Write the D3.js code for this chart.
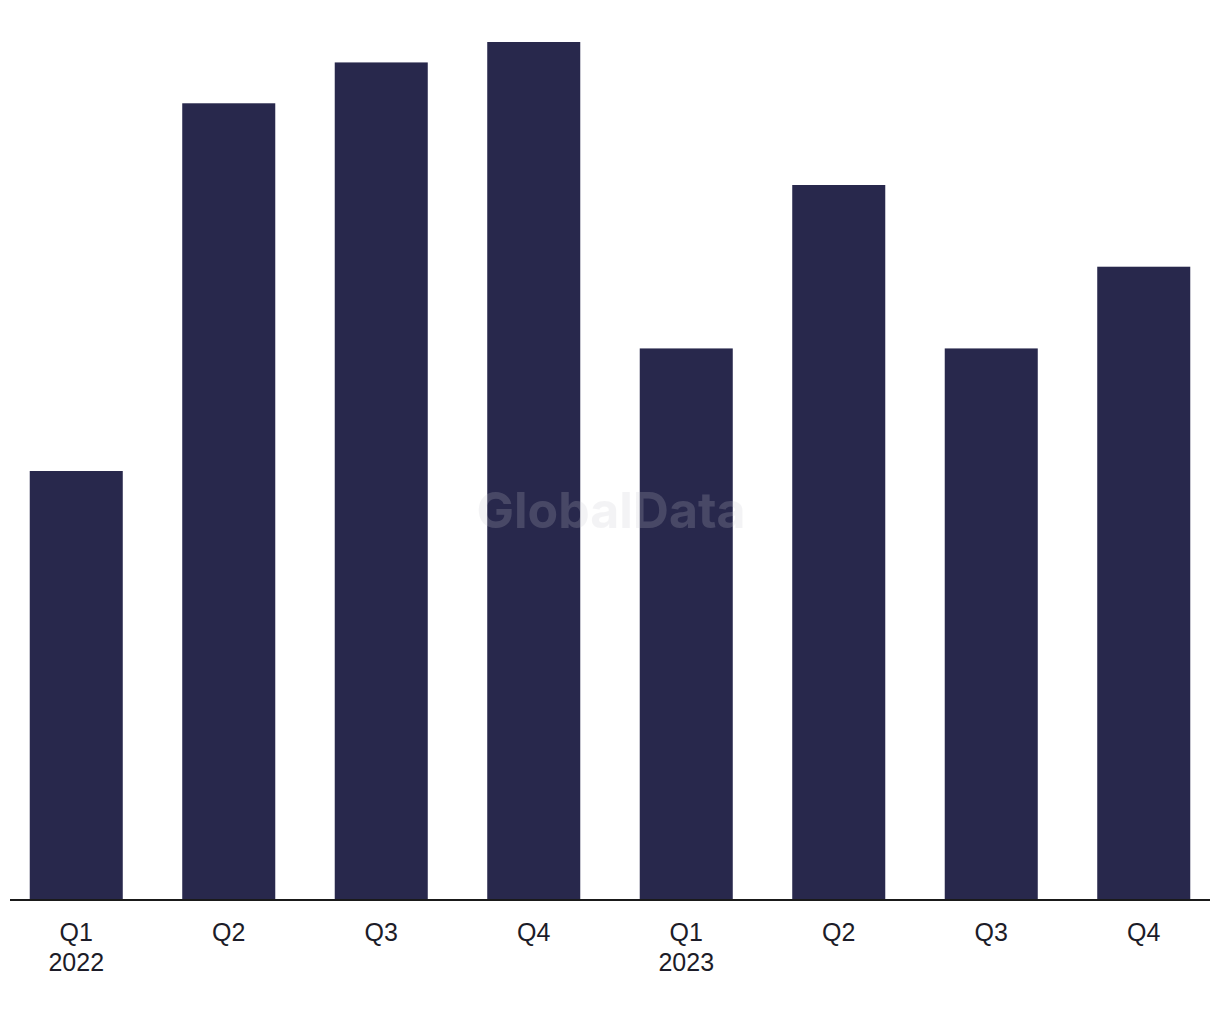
<!DOCTYPE html>
<html>
<head>
<meta charset="utf-8">
<script src="https://cdn.jsdelivr.net/npm/d3@7"></script>
<style>
  html, body { margin: 0; padding: 0; background: #fff; }
  svg { display: block; font-family: "Liberation Sans", Arial, sans-serif; }
</style>
</head>
<body>
<div id="chart"></div>
<script>
// ── Data ──────────────────────────────────────────────────────────────
const quarters = ["Q1", "Q2", "Q3", "Q4", "Q1", "Q2", "Q3", "Q4"];
const years    = ["2022", "", "", "", "2023", "", "", ""];
const values   = [21, 39, 41, 42, 27, 35, 27, 31];

// ── Setup ─────────────────────────────────────────────────────────────
const W = 1220, H = 1020;
const baseY = 900, topY = 42;

const svg = d3.select("#chart").append("svg").attr("width", W).attr("height", H);

const x = d3.scaleBand().domain(d3.range(values.length)).range([0, W])
  .paddingInner(0.39).paddingOuter(0.195);
const y = d3.scaleLinear().domain([0, 42]).range([baseY, topY]);

// ── Bars ──────────────────────────────────────────────────────────────
svg.append("g").selectAll("rect").data(values).join("rect")
  .attr("x", (d, i) => x(i))
  .attr("y", d => y(d))
  .attr("width", x.bandwidth())
  .attr("height", d => baseY - y(d))
  .attr("fill", "#28284c");

// ── Axis ──────────────────────────────────────────────────────────────
const ax = svg.append("g").attr("transform", `translate(0,${baseY})`)
  .call(d3.axisBottom(x).tickSize(0).tickFormat(i => quarters[i]));
ax.select(".domain").attr("d", "M10,0H1210").attr("stroke", "#1a1a1a").attr("stroke-width", 2);
ax.selectAll(".tick text").attr("font-size", 25).attr("fill", "#1c1c28")
  .attr("font-family", "'Liberation Sans', Arial, sans-serif")
  .attr("y", 41).attr("dy", 0);
ax.selectAll(".tick").append("text")
  .attr("y", 71).attr("text-anchor", "middle")
  .attr("font-size", 25).attr("fill", "#1c1c28")
  .text(i => years[i]);

// ── Watermark ─────────────────────────────────────────────────────────
svg.append("text").attr("x", 611).attr("y", 528).attr("text-anchor", "middle")
  .attr("font-family", "Inter, sans-serif")
  .attr("font-size", 50).attr("font-weight", 700)
  .attr("fill", "#c8c8d0").attr("opacity", 0.2)
  .text("GlobalData");
</script>
</body>
</html>
